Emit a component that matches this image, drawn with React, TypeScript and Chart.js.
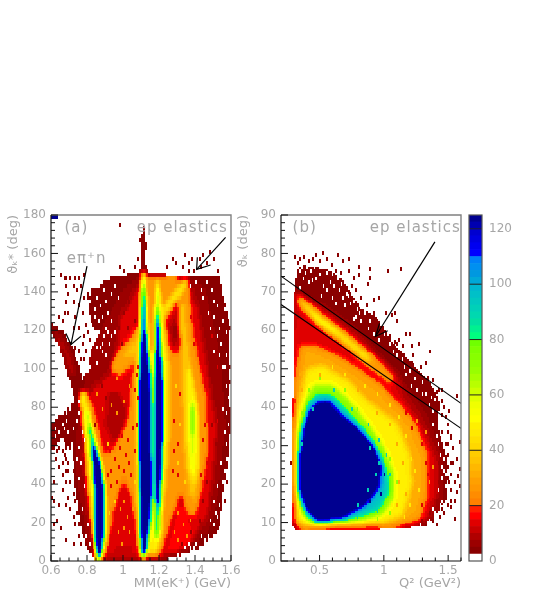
import React, { useEffect, useRef } from "react";
import { Chart, registerables } from "chart.js";

Chart.register(...registerables);

const FONT = "'DejaVu Sans'";
const GREY = "#a6a6a6";

// Colour levels of the palette: one colour per 2.5 counts, from 0 to 125
const levelColors = [
  "#ffffff","#8a0000","#9c0000","#b00000","#c80000","#e00000","#ff0000","#ff2000",
  "#ff8000","#ff8c00","#ff9800","#ffa000","#ffac00","#ffb800","#ffc400","#ffcc00",
  "#ffd800","#ffe000","#ffea00","#fff000","#ffff00","#f8ff00","#f0ff00","#e0ff00",
  "#ccff00","#b8ff00","#a8ff00","#98ff00","#90ff00","#88ff00","#80ff00","#70ff00",
  "#00ff80","#00f090","#00e0a0","#00d8b0","#00d0b8","#00c8c0","#00c0c8","#00b8d0",
  "#00a8d8","#0098e0","#0090f0","#0080f8","#0000ff","#0000f0","#0000e0","#0000d0",
  "#0000b0","#000090",
];
const colorbarTicks = [0, 20, 40, 60, 80, 100, 120];

// Panel (a): count regions, [count, x, y, x, y, ...], later ones on top
const regionsA: number[][] = [
  [4, .80,140,.95,148,1.09,150,1.10,155,1.107,175,1.118,175,1.125,155,1.14,150,1.35,148,1.54,148,1.56,136,1.595,122,1.585,94,1.6,72,1.585,53,1.55,34,1.54,18,1.50,13,1.43,7.6,1.35,4,1.28,1.5,1.2,.3,.85,.3,.807,5,.76,20,.733,40,.72,60,.76,85,.78,96,.87,106,.87,117,.82,125],
  [4, .6,124,.66,120,.715,112,.76,100,.78,90,.74,80,.70,95,.64,113,.6,118],
  [4, .6,71,.72,82,.76,82,.74,62,.69,60,.66,64,.6,57],
  [7, .82,110,.93,128,1.0,140,1.09,148,1.35,147,1.45,142,1.53,110,1.56,70,1.53,45,1.51,28,1.47,16,1.36,7,1.25,3,1.2,1,.86,1,.81,8,.78,25,.75,45,.755,70,.78,85],
  [8, .62,120,.66,116,.71,108,.74,98,.72,94,.68,104,.63,116],
  [14, .78,84,.95,100,.98,125,1.07,140,1.09,146,1.14,148,1.36,146,1.42,130,1.46,105,1.52,70,1.50,45,1.47,25,1.39,12,1.28,6,1.22,2,.87,1,.83,10,.80,30,.775,55],
  [8, .92,88,.98,88,1.02,78,1.0,66,.95,62,.90,70],
  [25, .78,88,.83,82,.90,55,.96,60,1.03,75,1.05,95,1.08,110,1.10,145,1.14,148,1.14,2,1.10,1.5,1.085,5,1.07,20,1.04,36,1.0,42,.97,35,.94,20,.90,3,.845,3,.80,40],
  [25, 1.14,148,1.30,147,1.345,147,1.37,140,1.39,118,1.43,100,1.46,85,1.47,58,1.44,38,1.41,25,1.36,25,1.32,35,1.26,20,1.22,6,1.20,2,1.14,2],
  [12, 1.24,126,1.30,134,1.335,128,1.33,112,1.29,108,1.25,112],
  [7, 1.26,122,1.30,126,1.31,116,1.28,112],
  [14, .95,30,.97,25,1.0,36,1.02,28,1.05,12,1.07,6,.94,3,.93,10],
  [12, .96,8,1.06,7,1.07,2,.92,2],
  [16, 1.24,4,1.32,30,1.36,20,1.40,15,1.36,8,1.3,4],
  [28, .93,100,.96,108,1.04,116,1.09,122,1.09,108,1.05,102,.98,96],
  [36, 1.0,107,1.05,113,1.09,118,1.09,110,1.05,105],
  [35, 1.31,135,1.345,135,1.37,110,1.42,80,1.43,50,1.40,30,1.36,35,1.33,60,1.32,100],
  [42, 1.195,8,1.22,20,1.24,40,1.26,70,1.26,100,1.225,128,1.2,130,1.2,8],
  [45, 1.20,128,1.25,136,1.30,142,1.34,146,1.36,146,1.34,140,1.28,134,1.22,126],
  [48, 1.345,100,1.38,100,1.42,75,1.42,50,1.39,38,1.36,50,1.35,75],
  [62, 1.37,82,1.395,85,1.40,60,1.385,45,1.375,55],
  [88, 1.375,78,1.39,80,1.39,66,1.378,66],
  [45, 1.10,150,1.125,150,1.145,125,1.16,100,1.17,60,1.175,20,1.17,5,1.135,3,1.105,1,1.08,10,1.072,40,1.07,80,1.075,105,1.09,130],
  [48, 1.18,147,1.195,147,1.22,130,1.24,100,1.235,50,1.215,15,1.19,4,1.16,4,1.165,40,1.165,80,1.165,110],
  [64, 1.112,147,1.122,147,1.135,120,1.16,95,1.17,70,1.165,30,1.14,5,1.112,2,1.09,15,1.085,50,1.085,100,1.10,125],
  [64, 1.185,143,1.195,143,1.205,125,1.228,100,1.225,60,1.21,30,1.195,12,1.175,12,1.17,40,1.17,80,1.175,110],
  [92, 1.114,146,1.12,146,1.128,125,1.14,110,1.155,90,1.162,60,1.16,30,1.135,6,1.113,1,1.097,8,1.09,30,1.088,70,1.09,100,1.105,125],
  [92, 1.183,133,1.193,133,1.205,115,1.222,95,1.222,60,1.21,40,1.2,20,1.19,12,1.178,13,1.175,40,1.173,80,1.177,110],
  [135, 1.114,142,1.12,142,1.125,118,1.14,105,1.15,94,1.15,70,1.159,40,1.15,20,1.125,6,1.114,1,1.10,6,1.098,20,1.094,40,1.094,94,1.105,118],
  [135, 1.183,126,1.194,126,1.202,110,1.218,94,1.218,65,1.205,40,1.198,28,1.186,28,1.178,40,1.178,94,1.18,110],
  [46, .755,88,.795,88,.83,70,.875,50,.905,35,.915,20,.90,5,.87,2,.85,2,.83,15,.815,35,.795,55,.77,75],
  [64, .79,78,.81,78,.84,65,.885,50,.90,38,.905,20,.89,4,.875,1,.855,1,.84,8,.833,20,.825,40,.81,58],
  [92, .81,70,.825,70,.85,60,.88,50,.896,40,.90,20,.888,6,.875,2,.86,2,.846,8,.84,20,.837,40,.825,55],
  [135, .83,60,.845,60,.87,50,.888,40,.892,20,.884,8,.877,3,.862,3,.85,8,.848,20,.845,40,.835,52],
];
const specklesA: number[][] = [
  [.987,174],[1.09,166],[1.13,164],[1.10,160],[1.12,162],[1.13,152],[1.08,156],[1.06,152],[.98,152],[1.0,150],
  [1.345,158],[1.36,154],[1.42,156],[1.44,158],[1.48,160],[1.46,154],[1.39,156],[1.29,154],[1.24,152],[1.27,156],[1.33,152],[1.5,156],[1.52,150],[1.40,150],[1.43,152],[1.36,150],
  [.65,148],[.67,146],[.69,146],[.71,146],[.73,146],[.75,146],[.78,148],[.68,142],[.72,142],[.76,142],[.70,138],[.74,140],[.72,134],[.68,134],[.75,132],[.78,136],[.70,128],[.67,128],[.73,126],[.77,128],[.64,126],[.66,124],[.79,122],[.75,120],[.72,120],[.78,116],[.80,118],[.82,114],[.77,112],[.75,108],[.79,108],[.73,110],[.84,112],[.81,104],[.78,104],[.76,104],
  [.61,40],[.62,52],[.63,56],[.64,58],[.66,56],[.67,54],[.69,58],[.71,58],[.64,48],[.66,50],[.68,52],[.70,50],[.72,52],[.68,46],[.70,46],[.72,46],[.66,44],[.73,42],[.71,40],[.69,40],[.74,36],[.72,34],[.70,32],[.73,30],[.75,28],[.74,24],[.72,22],[.71,26],[.69,28],[.75,18],[.73,18],[.77,14],[.75,12],[.66,36],[.61,30],[.64,28],[.63,20],[.61,18],[.65,16],[.68,10],[.72,8],[.76,8],[.605,32],
  [1.59,120],[1.58,114],[1.59,100],[1.595,92],[1.56,30],[1.57,40],
];
const holesA: number[][] = [
  [1.52,22],[1.50,18],[1.47,12],[1.53,28],[1.45,10],[1.41,8],[1.38,6],[1.36,8],[1.55,40],[1.57,60],[1.56,66],[1.55,78],[1.575,90],[1.55,100],[1.54,112],[1.57,118],[1.52,132],[1.5,126],[1.44,136],[1.49,140],[1.47,128],[1.56,130],[1.53,120],
  [.90,135],[.84,130],[.82,135],[.86,142],[.88,126],[.83,122],[.9,120],[.94,125],[.86,118],[.92,112],[.8,98],[.82,100],[.85,102],[.88,108],[.90,106],[.78,62],[.76,50],[.78,38],[.80,18],[.82,8],
  [.66,70],[.70,66],[.68,72],[.64,66],[.72,68],[.62,64],[.65,62],[.67,68],[.62,68],[.74,72],[.69,76],[.71,78],[.75,76],
  [.81,138],[.83,142],[.85,136],[.87,132],[.84,126],[.86,124],[.89,140],[.91,128],[.93,138],[.95,142],[.97,136],[.89,116],[.91,118],[.93,116],[.95,118],[.88,112],[.83,118],[.85,110],[.87,110],[.82,106],
  [1.54,50],[1.56,46],[1.57,52],[1.58,70],[1.575,76],[1.58,84],[1.565,100],[1.57,106],[1.575,130],[1.55,124],[1.53,106],[1.52,38],[1.5,30],[1.51,24],[1.48,20],[1.46,8],[1.43,12],[1.4,6],[1.34,6],[1.3,3],[.79,12],[.77,26],[.75,42],[.74,52],[.75,58],[.77,66],
  [1.46,144],[1.5,134],[1.52,116],[1.5,108],[1.48,120],[1.43,140],[1.41,144],[1.38,142],
];
const overflowA: number[][] = [[.605,179,125],[.615,179,125],[.625,179,125],[.635,179,125]];
const mottleA: number[][] = [
  [.92,56,14],[.95,52,14],[.98,58,14],[1.01,54,14],[.94,46,14],[.97,48,14],[1.0,46,14],[1.03,50,14],[.91,44,14],[1.02,62,14],[1.05,68,14],[.99,64,14],[1.06,56,14],[.93,38,14],[.96,40,14],[1.04,44,14],[1.07,70,14],[1.08,84,14],[1.06,88,14],[1.07,96,14],[1.08,100,14],
  [1.0,30,25],[1.02,22,25],[.98,26,25],[1.03,14,25],[1.0,16,25],[1.05,26,25],[.97,14,25],[.99,8,25],[1.3,24,25],[1.33,18,25],[1.28,14,25],[1.35,12,25],[1.3,10,25],[1.37,20,25],[.96,76,25],[.93,80,25],[1.0,82,25],[.88,78,25],[.85,86,25],[1.03,90,25],[.96,94,25],
  [1.3,60,14],[1.28,72,14],[1.31,86,14],[1.45,70,14],[1.44,62,14],[1.46,50,14],[1.43,44,14],[1.45,90,14],[1.42,104,14],[1.4,112,14],[1.38,126,14],[1.28,56,14],[1.3,44,14],[1.27,46,14],[1.52,100,14],[1.52,72,14],[1.49,116,14],
  [.97,120,6],[1.0,128,6],[1.03,134,6],[1.06,124,6],[1.02,120,6],[.99,112,6],[1.44,126,6],[1.42,134,6],[1.46,112,6],[1.48,96,6],[1.5,84,6],[1.49,70,6],[1.51,60,6],[1.46,40,6],[1.44,30,6],[1.42,20,6],[1.38,14,6],[1.32,8,6],[.88,90,6],[.9,84,6],[.84,70,6],
  [1.29,90,42],[1.31,70,42],[1.3,50,42],[1.34,40,42],[.95,30,42],[.92,24,42],[1.07,60,42],[1.06,40,42],[.91,60,42],
];

// Panel (b)
const regionsB: number[][] = [
  [4, .305,70,.33,76,.37,77,.577,75.7,.68,73,.81,66,.94,63.5,1.07,56.6,1.226,51.4,1.38,45.3,1.434,41,1.41,36,1.486,27,1.486,16,1.38,11,1.33,9,.94,8.2,.33,7.8,.29,9,.29,36,.30,58],
  [8, .30,66,.33,70,.55,66,.8,60,1.0,52,1.15,46,1.32,38,1.45,27,1.45,17,1.38,11.5,1.25,9,.94,8.2,.34,8,.29,10,.29,40],
  [14, .32,64,.6,60,.85,52,1.1,45,1.3,35,1.41,26,1.40,17,1.34,11,1.2,9,.95,8.6,.33,8.2,.295,10,.295,40,.30,58],
  [30, .35,56,.45,56,.60,54,.80,50,1.0,45,1.13,40,1.24,36,1.33,28,1.34,18,1.28,11,1.10,9.2,.95,9.2,.35,8.7,.31,10,.30,30,.31,45],
  [48, .40,50,.52,51,.72,47,.90,41,1.10,36,1.2,28,1.22,20,1.15,12,1.0,10,.40,9,.33,10.5,.31,18,.31,30,.33,40],
  [70, .45,46,.60,46,.72,42.5,.88,36,1.0,30,1.08,23,1.08,16,1.0,12,.85,10.5,.46,9.4,.36,12,.32,18,.32,28,.34,37,.40,43],
  [95, .47,43.5,.58,43.5,.70,39.5,.85,34,.97,28,1.03,23,1.04,18,.97,13.5,.85,12,.70,10.5,.46,9.8,.37,13,.33,18,.33,28,.36,35,.41,41],
  [135, .5,41.6,.577,41.6,.654,38.5,.81,34.2,.927,29.9,.98,24.6,.966,19.4,.862,14.7,.68,11.2,.473,10.3,.382,14.2,.343,18.6,.343,27.3,.369,34.2,.42,39.4],
  [12, .31,70,.34,70,.55,65,.70,61,.9,55,1.1,49,1.15,44,1.0,47,.85,51,.7,55,.55,58,.4,63,.32,64],
  [28, .33,69,.36,68.5,.55,63.5,.70,59.5,.9,54,1.08,48,1.05,46,.88,50.5,.7,56,.55,59.5,.42,64,.34,66],
  [48, .335,68.5,.36,68,.5,63.5,.65,60,.9,53,.88,51.5,.65,58,.5,61.5,.38,65.5],
  [68, .44,64.5,.62,60.3,.63,59.4,.44,63.5],
];
const specklesB: number[][] = [
  [.304,78.7],[.33,77.4],[.382,78.7],[.473,79.1],[.525,79.6],[.642,79],[.686,77.8],[.72,78],[.81,76.1],[.888,75.9],[1.03,75.2],[1.135,75.9],[.77,73],[.81,74.4],[.73,75.2],[.875,71.5],[.9,73],[.966,68.3],[.927,67.9],[1.057,63.5],[1.109,62.2],[1.018,64],[1.083,64],[1.174,58.7],[1.2,58.7],[1.273,56.3],[1.361,54.2],[1.33,51.4],[1.213,55.7],[1.148,55.7],[1.122,57.4],[1.083,56.6],[1.226,53.1],[1.46,44.4],[1.408,43.6],[1.564,42.7],
  [1.59,23.8],[1.577,21.6],[1.59,19.4],[1.564,17.7],[1.55,15.1],[1.525,13.8],[1.473,12.1],[1.55,10.8],[1.408,9.2],[1.382,10.3],[1.525,31.6],[1.59,30.7],[1.538,29],[1.564,26],[1.5,35],[1.46,37.7],[1.447,41.1],[1.51,38.5],[1.473,39.8],[.278,25.1],
  [1.5,30],[1.52,22],[1.53,18],[1.5,14],[1.48,30],[1.54,25],[1.51,20],[1.46,33],[1.42,39],[1.44,11],[1.46,13],
  [.35,78],[.42,77.5],[.45,78],[.5,77.5],[.55,78],[.6,76.5],[.63,75],[.67,74.5],[.75,71],[.78,70],[.83,68],[.86,66],[.92,64],[.99,60],[1.05,58],[1.1,56],[1.16,53],[1.28,50],[1.34,47],[1.38,46.5],[1.42,44],
  [1.5,27],[1.52,25],[1.49,24],[1.5,21],[1.55,20],[1.49,33],[1.53,32],[1.48,37],[1.5,17],[1.52,15],[1.47,18.5],
];
const holesB: number[][] = [
  [.40,76],[.37,73],[.35,70.5],[.53,71],[.50,74],[.58,72],[.60,68],[.66,70],[.63,66.5],[.70,66],[.74,66.5],[.71,69],[.78,63],[.82,62],[.85,64],[.90,62],[.96,57],[1.0,58.5],[1.03,61],[1.08,54],[1.12,55],[1.16,50],[1.2,49],[1.25,47],[1.3,46],[1.33,43],[1.37,42],[1.4,41.5],[1.42,37],[1.39,38.5],
  [1.44,34],[1.47,30],[1.5,25],[1.52,28],[1.48,22],[1.5,19],[1.46,15],[1.44,14],[1.40,12],[1.42,10.5],[1.35,10],[1.28,9],[1.47,26],[1.49,17],
  [.34,75],[.36,76],[.39,74.5],[.43,75],[.46,76],[.48,73],[.45,72.5],[.42,72],[.56,74.5],[.6,74],[.55,70],[.52,68.5],[.62,71],[.64,73],[.67,71.5],[.69,68],[.73,68.5],[.76,67],[.79,65],[.81,64],[.76,62.5],[.88,60],[.92,58.5],[.98,61],[1.05,56],[1.1,53],[1.14,52],[1.18,48],[1.22,45],[1.26,44],[1.3,43],[1.35,40],[1.38,35],
  [1.43,30],[1.45,24],[1.43,18],[1.46,21],[1.41,32],[1.47,23],[1.44,27],[1.48,19],[1.38,13],[1.34,9.5],
];
const mottleB: number[][] = [
  [1.22,26,45],[1.25,23,45],[1.27,18,45],[1.2,14,45],[1.16,11,45],[1.12,37,45],[1.05,40,45],[.95,43,45],[.85,45,45],[.7,48,45],[.6,50,45],[1.18,32,45],
  [1.1,30,30],[1.15,25,30],[1.18,17,30],[1.1,14,30],[1.05,35,30],[.95,38,30],[.8,44,30],[.65,49,30],[.5,48,30],[.36,44,30],[.35,48,30],[1.12,20,30],
  [1.05,26,70],[1.1,20,70],[1.05,12,70],[.95,10.5,70],[.8,10.5,70],[.9,33,70],[.8,39,70],[.7,44,70],[.5,47,70],[.42,44,70],[.36,38,70],
  [1.05,22,92],[1.02,27,92],[.96,31,92],[.88,35,92],[.75,39,92],[.62,44,92],[.95,12.5,92],[.8,11,92],
  [1.06,14,48],[1.02,30,48],[.92,36,48],[.78,42,48],
  [1.3,30,14],[1.34,22,14],[1.3,14,14],[1.32,25,14],[1.22,34,14],[1.18,38,14],
  [1.36,20,25],[1.38,24,25],[1.33,33,25],[1.26,36,25],
  [1.4,30,6],[1.43,20,6],[1.41,15,6],[1.36,12,6],[1.3,10,6],[1.42,25,6],
  [.96,25,92],[.93,22,92],[.88,18,92],[.8,14,92],[.9,29,92],[.45,39,92],[.36,30,92],
  [1.0,22,125],[.98,17,125],[.9,15,125],[.74,35,125],
];

// Overlay lines, in axis units
const arrowsA: number[][][] = [
  [[.80,153.4],[.711,112.6]],
  [[.683,118.4],[.711,112.6],[.767,117]],
  [[1.57,168.4],[1.409,151.7]],
  [[1.413,158],[1.409,151.7],[1.487,154]],
];
const linesB: number[][][] = [
  [[.2,74.1],[1.6,41]],
  [[.2,66.7],[1.6,34.5]],
  [[1.397,83],[.935,58.4]],
  [[.966,61.8],[.935,58.4],[1.03,59.9]],
];

const xMajorA = [.6,.8,1,1.2,1.4,1.6];
const xMinorA = [.65,.7,.75,.85,.9,.95,1.05,1.1,1.15,1.25,1.3,1.35,1.45,1.5,1.55];
const yMajorA = [0,20,40,60,80,100,120,140,160,180];
const yMinorA = [4,8,12,16,24,28,32,36,44,48,52,56,64,68,72,76,84,88,92,96,104,108,112,116,124,128,132,136,144,148,152,156,164,168,172,176];
const xMajorB = [.5,1,1.5];
const xMinorB = [.3,.4,.6,.7,.8,.9,1.1,1.2,1.3,1.4,1.6];
const yMajorB = [0,10,20,30,40,50,60,70,80,90];
const yMinorB = [2,4,6,8,12,14,16,18,22,24,26,28,32,34,36,38,42,44,46,48,52,54,56,58,62,64,66,68,72,74,76,78,82,84,86,88];

function inside(poly: number[], x: number, y: number) {
  let c = false;
  const n = poly.length;
  for (let i = 1, j = n - 2; i < n; j = i, i += 2) {
    const xi = poly[i], yi = poly[i + 1], xj = poly[j], yj = poly[j + 1];
    if (yi > y !== yj > y && x < ((xj - xi) * (y - yi)) / (yj - yi) + xi) c = !c;
  }
  return c;
}

type Grid = { x0: number; x1: number; y0: number; y1: number; nx: number; ny: number; cw: number; ch: number; passes: number; ky: number };

function cellDatasets(g: Grid, regions: number[][], specks: number[][], holes: number[][], mottle: number[][]) {
  const dx = (g.x1 - g.x0) / g.nx, dy = (g.y1 - g.y0) / g.ny;
  let cells = new Float32Array(g.nx * g.ny);
  for (let i = 0; i < g.nx; i++)
    for (let j = 0; j < g.ny; j++) {
      const x = g.x0 + (i + .5) * dx, y = g.y0 + (j + .5) * dy;
      for (const r of regions) if (inside(r, x, y)) cells[i + j * g.nx] = r[0];
    }
  // soften the region borders between occupied cells
  for (let p = 0; p < g.passes; p++) {
    const next = new Float32Array(cells);
    for (let i = 0; i < g.nx; i++)
      for (let j = 0; j < g.ny; j++) {
        if (cells[i + j * g.nx] === 0) continue;
        let s = 0, w = 0;
        for (let a = -1; a <= 1; a++)
          for (let b = -1; b <= 1; b++) {
            const u = i + a, v = j + b;
            if (u < 0 || v < 0 || u >= g.nx || v >= g.ny) continue;
            const c = cells[u + v * g.nx];
            if (c === 0) continue;
            const k = b === 0 ? 1 : g.ky;
            s += c * k; w += k;
          }
        next[i + j * g.nx] = s / w;
      }
    cells = next;
  }
  const stamp = (x: number, y: number, v: number, always: boolean) => {
    const i = Math.floor((x - g.x0) / dx), j = Math.floor((y - g.y0) / dy);
    if (i < 0 || j < 0 || i >= g.nx || j >= g.ny) return;
    if (always || cells[i + j * g.nx] === 0) cells[i + j * g.nx] = v;
    if (g.ch < 3 && j + 1 < g.ny && (always || cells[i + (j + 1) * g.nx] === 0)) cells[i + (j + 1) * g.nx] = v;
  };
  specks.forEach(([x, y]) => stamp(x, y, 4, false));
  mottle.forEach(([x, y, v]) => { if (cells[Math.floor((x - g.x0) / dx) + Math.floor((y - g.y0) / dy) * g.nx] > 0 || v === 125) stamp(x, y, v, true); });
  holes.forEach(([x, y]) => stamp(x, y, 0, true));
  const groups: { x: number; y: number }[][] = levelColors.map(() => []);
  for (let i = 0; i < g.nx; i++)
    for (let j = 0; j < g.ny; j++) {
      const v = cells[i + j * g.nx];
      if (v > 0) groups[Math.max(1, Math.min(49, Math.floor(v / 2.5)))].push({ x: g.x0 + (i + .5) * dx, y: g.y0 + (j + .5) * dy });
    }
  return groups.map((data, k) => {
    const img = document.createElement("canvas");
    img.width = g.cw; img.height = g.ch;
    const c = img.getContext("2d")!;
    c.fillStyle = levelColors[k];
    c.fillRect(0, 0, g.cw, g.ch);
    return { data, pointStyle: img, pointRadius: 1, showLine: false, order: 5 };
  });
}

function lineDatasets(lines: number[][][]) {
  return lines.map((l) => ({
    data: l.map(([x, y]) => ({ x, y })),
    showLine: true, pointRadius: 0, borderColor: "#000", borderWidth: 1.2, order: -1,
  }));
}

function framePlugin(xMaj: number[], xMin: number[], yMaj: number[], yMin: number[], notes: { t: string; x: number; y: number; s: number }[]) {
  return {
    id: "frame",
    afterDatasetsDraw(chart: any) {
      const { ctx, chartArea: a, scales } = chart;
      ctx.save();
      ctx.strokeStyle = "#808080"; ctx.lineWidth = 1.4;
      ctx.beginPath(); ctx.moveTo(a.left, a.top); ctx.lineTo(a.right, a.top); ctx.lineTo(a.right, a.bottom); ctx.stroke();
      ctx.strokeStyle = "#111"; ctx.lineWidth = 1.2;
      ctx.beginPath(); ctx.moveTo(a.left, a.top); ctx.lineTo(a.left, a.bottom); ctx.lineTo(a.right, a.bottom); ctx.stroke();
      ctx.lineWidth = 1;
      ctx.beginPath();
      const yt = (v: number, l: number) => { const p = scales.y.getPixelForValue(v); ctx.moveTo(a.left, p); ctx.lineTo(a.left + l, p); };
      const xt = (v: number, l: number) => { const p = scales.x.getPixelForValue(v); ctx.moveTo(p, a.bottom); ctx.lineTo(p, a.bottom - l); };
      yMaj.forEach((v) => yt(v, 7)); yMin.forEach((v) => yt(v, 4));
      xMaj.forEach((v) => xt(v, 6)); xMin.forEach((v) => xt(v, 3.5));
      ctx.stroke();
      ctx.fillStyle = GREY; ctx.textBaseline = "middle"; ctx.textAlign = "left";
      (ctx as any).letterSpacing = "1px";
      notes.forEach((n) => {
        ctx.font = `${n.s}px ${FONT}`;
        ctx.fillText(n.t, scales.x.getPixelForValue(n.x), scales.y.getPixelForValue(n.y));
      });
      ctx.restore();
    },
  };
}

function heatOptions(xr: number[], yr: number[], xTicks: number[], yTicks: number[], xTitle: string, yTitle: string, leftW: number) {
  return {
    animation: false as const, responsive: false, events: [] as any[],
    layout: { padding: { top: 15, right: 19 } },
    plugins: { legend: { display: false }, tooltip: { enabled: false } },
    scales: {
      x: {
        type: "linear" as const, min: xr[0], max: xr[1],
        grid: { display: false, drawTicks: false }, border: { display: false },
        afterBuildTicks: (s: any) => { s.ticks = xTicks.map((value) => ({ value })); },
        afterFit: (s: any) => { s.height = 44; },
        ticks: { color: GREY, font: { family: FONT, size: 12 }, padding: 3, maxRotation: 0, autoSkip: false, callback: (v: any) => String(Number(Number(v).toFixed(1))) },
        title: { display: true, text: xTitle, align: "end" as const, color: GREY, font: { family: FONT, size: 13 }, padding: { top: 0, bottom: 14 } },
      },
      y: {
        type: "linear" as const, min: yr[0], max: yr[1],
        grid: { display: false, drawTicks: false }, border: { display: false },
        afterBuildTicks: (s: any) => { s.ticks = yTicks.map((value) => ({ value })); },
        afterFit: (s: any) => { s.width = leftW; },
        ticks: { color: GREY, font: { family: FONT, size: 12 }, padding: 5, autoSkip: false },
        title: { display: true, text: yTitle, align: "end" as const, color: GREY, font: { family: FONT, size: 13 }, padding: { top: 6, bottom: 0 } },
      },
    },
  };
}

export default function App() {
  const a = useRef<HTMLCanvasElement>(null);
  const b = useRef<HTMLCanvasElement>(null);
  const c = useRef<HTMLCanvasElement>(null);
  useEffect(() => {
    const ca = new Chart(a.current!, {
      type: "scatter",
      data: {
        datasets: [
          ...lineDatasets(arrowsA),
          ...cellDatasets({ x0: .6, x1: 1.6, y0: 0, y1: 180, nx: 100, ny: 90, cw: 2, ch: 4, passes: 1, ky: .4 }, regionsA, specklesA, holesA, [...mottleA, ...overflowA]),
        ] as any,
      },
      options: heatOptions([.6, 1.6], [0, 180], xMajorA, yMajorA, "MM(eK⁺) (GeV)", "ϑₖ* (deg)", 51) as any,
      plugins: [framePlugin(xMajorA, xMinorA, yMajorA, yMinorA, [
        { t: "(a)", x: .675, y: 173, s: 15 },
        { t: "ep elastics", x: 1.076, y: 173, s: 15 },
        { t: "eπ⁺n", x: .688, y: 157, s: 15 },
      ])],
    });
    const cb = new Chart(b.current!, {
      type: "scatter",
      data: {
        datasets: [
          ...lineDatasets(linesB),
          ...cellDatasets({ x0: .2, x1: 1.6, y0: 0, y1: 90, nx: 100, ny: 180, cw: 2, ch: 2, passes: 3, ky: 1 }, regionsB, specklesB, holesB, mottleB),
        ] as any,
      },
      options: heatOptions([.2, 1.6], [0, 90], xMajorB, yMajorB, "Q² (GeV²)", "ϑₖ (deg)", 51) as any,
      plugins: [framePlugin(xMajorB, xMinorB, yMajorB, yMinorB, [
        { t: "(b)", x: .29, y: 86.5, s: 15 },
        { t: "ep elastics", x: .89, y: 86.5, s: 15 },
      ])],
    });
    const cc = new Chart(c.current!, {
      type: "bar",
      data: {
        labels: ["z"],
        datasets: levelColors.map((color, k) => ({
          data: [[k * 2.5, (k + 1) * 2.5]] as any,
          backgroundColor: color, barPercentage: 1, categoryPercentage: 1, grouped: false, borderWidth: 0,
        })),
      },
      options: {
        animation: false, responsive: false, events: [],
        layout: { padding: { top: 15, left: 9, bottom: 44 } },
        plugins: { legend: { display: false }, tooltip: { enabled: false } },
        scales: {
          x: { display: false, stacked: false },
          y: {
            type: "linear", position: "right", min: 0, max: 125,
            grid: { display: false, drawTicks: false }, border: { display: false },
            afterBuildTicks: (s: any) => { s.ticks = colorbarTicks.map((value) => ({ value })); },
            afterFit: (s: any) => { s.width = 71; },
            ticks: { color: GREY, font: { family: FONT, size: 12 }, padding: 7, autoSkip: false },
          },
        },
      } as any,
      plugins: [{
        id: "barframe",
        afterDatasetsDraw(chart: any) {
          const { ctx, chartArea: r, scales } = chart;
          ctx.save();
          ctx.strokeStyle = "#222"; ctx.lineWidth = 1;
          ctx.beginPath();
          colorbarTicks.slice(1).forEach((v) => { const p = scales.y.getPixelForValue(v); ctx.moveTo(r.left, p); ctx.lineTo(r.right, p); });
          ctx.stroke();
          ctx.strokeStyle = "#555"; ctx.lineWidth = 1.2;
          ctx.strokeRect(r.left, r.top, r.right - r.left, r.bottom - r.top);
          ctx.restore();
        },
      }],
    });
    return () => { ca.destroy(); cb.destroy(); cc.destroy(); };
  }, []);
  const pos = (left: number): React.CSSProperties => ({ position: "absolute", left, top: 200 });
  return (
    <div style={{ position: "absolute", left: 0, top: 0, width: 553, height: 605, background: "#fff", overflow: "hidden" }}>
      <canvas ref={a} width={250} height={405} style={pos(0)} />
      <canvas ref={b} width={250} height={405} style={pos(230)} />
      <canvas ref={c} width={93} height={405} style={pos(460)} />
    </div>
  );
}
